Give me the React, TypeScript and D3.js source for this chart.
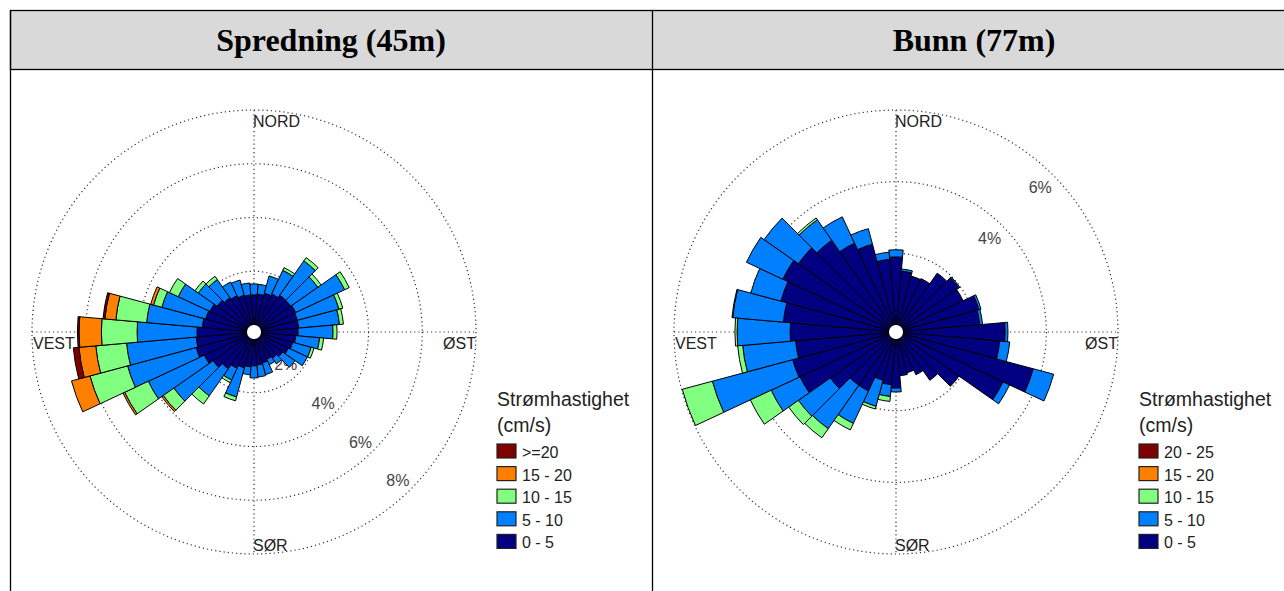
import React from "react";
import * as d3 from "d3";

// ---------- data ----------
const directions = [0, 10, 20, 30, 40, 50, 60, 70, 80, 90, 100, 110, 120, 130, 140, 150, 160, 170,
  180, 190, 200, 210, 220, 230, 240, 250, 260, 270, 280, 290, 300, 310, 320, 330, 340, 350];

// Spredning (45m) – percent of time per direction and speed class
const spredC0 = [1.12, 1.15, 1.23, 1.30, 1.41, 1.41, 1.45, 1.41, 1.41, 1.38, 1.30, 1.23, 1.15, 1.04, 0.93, 0.86, 0.93, 0.97,
  1.00, 1.04, 1.12, 1.23, 1.41, 1.60, 1.78, 1.97, 1.90, 1.86, 1.67, 1.60, 1.55, 1.41, 1.30, 1.23, 1.15, 1.12];
const spredC1 = [0.41, 0.37, 0.67, 0.97, 1.56, 1.23, 2.01, 1.60, 1.52, 1.30, 0.89, 0.71, 0.78, 0.56, 0.26, 0.22, 0.45, 0.45,
  0.45, 0.30, 1.12, 0.48, 1.23, 1.78, 2.30, 2.64, 2.60, 2.23, 2.08, 1.69, 1.30, 0.86, 0.82, 0.56, 0.59, 0.45];
const spredC2 = [0, 0, 0, 0.11, 0.15, 0.15, 0.19, 0.15, 0.15, 0.15, 0.15, 0.11, 0, 0, 0, 0, 0, 0,
  0, 0, 0.15, 0.11, 0.37, 0.48, 0.97, 1.45, 1.15, 1.33, 1.15, 0.32, 0.36, 0.15, 0.15, 0, 0, 0];
const spredC3 = [0, 0, 0, 0, 0, 0, 0, 0, 0, 0, 0, 0, 0, 0, 0, 0, 0, 0,
  0, 0, 0, 0, 0, 0.07, 0.07, 0.71, 0.63, 0.83, 0.41, 0.11, 0, 0, 0, 0, 0, 0];
const spredC4 = [0, 0, 0, 0, 0, 0, 0, 0, 0, 0, 0, 0, 0, 0, 0, 0, 0, 0,
  0, 0, 0, 0, 0, 0, 0, 0, 0.21, 0.06, 0.07, 0, 0, 0, 0, 0, 0, 0];

// Bunn (77m)
const bunnC0 = [1.90, 1.51, 1.42, 1.45, 1.81, 1.95, 1.87, 2.20, 2.15, 2.85, 2.71, 3.77, 3.10, 1.95, 1.45, 1.12, 0.98, 1.03,
  1.37, 1.28, 1.20, 1.62, 1.62, 2.04, 2.76, 2.79, 2.62, 2.76, 2.96, 3.13, 3.29, 3.13, 2.93, 2.54, 2.34, 1.84];
const bunnC1 = [0.20, 0.06, 0, 0, 0, 0.03, 0, 0.06, 0.08, 0.08, 0.28, 0.59, 0.20, 0, 0, 0, 0, 0,
  0.11, 0.33, 0.75, 1.00, 1.48, 1.09, 0.89, 2.32, 1.48, 1.48, 1.42, 0.87, 1.12, 1.17, 0.70, 0.81, 0.45, 0.20];
const bunnC2 = [0, 0, 0, 0, 0, 0, 0, 0, 0, 0, 0, 0, 0, 0, 0, 0, 0, 0,
  0, 0.14, 0.08, 0.20, 0.31, 0.33, 0.64, 0.87, 0.14, 0.06, 0.02, 0, 0, 0, 0.06, 0, 0, 0];
const bunnC3 = [0, 0, 0, 0, 0, 0, 0, 0, 0, 0, 0, 0, 0, 0, 0, 0, 0, 0,
  0, 0, 0, 0, 0, 0, 0, 0, 0, 0, 0, 0, 0, 0, 0, 0, 0, 0];
const bunnC4 = [0, 0, 0, 0, 0, 0, 0, 0, 0, 0, 0, 0, 0, 0, 0, 0, 0, 0,
  0, 0, 0, 0, 0, 0, 0, 0, 0, 0, 0, 0, 0, 0, 0, 0, 0, 0];

const classKeys = ["c0", "c1", "c2", "c3", "c4"];
const classColors = ["#000080", "#0080FF", "#80FF80", "#FF8000", "#800000"];
const spredLegend = ["0 - 5", "5 - 10", "10 - 15", "15 - 20", ">=20"];
const bunnLegend = ["0 - 5", "5 - 10", "10 - 15", "15 - 20", "20 - 25"];
const spredTicks = [2, 4, 6, 8];
const bunnTicks = [2, 4, 6];
const compassLabels = ["NORD", "ØST", "SØR", "VEST"];
const titles = ["Spredning (45m)", "Bunn (77m)"];
const legendTitle = ["Strømhastighet", "(cm/s)"];

// ---------- layout ----------
const W = 1284;
const H = 591;
const R = 222;
const HOLE = 7;
const SANS = "'Liberation Sans', Arial, sans-serif";
const DOT = { stroke: "#333", strokeWidth: 1.2, strokeDasharray: "1.2 3", fill: "none" };

function Rose({ cx, cy, series, ticks, labelAngle, labelInset, legendLabels, legendX }) {
  const rScale = d3.scaleLinear().domain([0, d3.max(ticks)]).range([HOLE, R]);
  const rows = directions.map((dir, i) => {
    const o: any = { dir };
    series.forEach((s, k) => (o[classKeys[k]] = s[i]));
    return o;
  });
  const stacked = d3.stack().keys(classKeys)(rows);
  const arc = d3.arc();
  const half = (5 * Math.PI) / 180;
  const la = (labelAngle * Math.PI) / 180;

  return (
    <g>
      {/* rings */}
      {ticks.map((t) => (
        <circle key={t} cx={cx} cy={cy} r={rScale(t)} {...DOT} />
      ))}
      <line x1={cx - R} x2={cx + R} y1={cy} y2={cy} {...DOT} />
      <line x1={cx} x2={cx} y1={cy - R} y2={cy + R} {...DOT} />
      {ticks.map((t) => {
        const d = rScale(t) - labelInset;
        return (
          <text key={"l" + t} x={cx + d * Math.sin(la)} y={cy - d * Math.cos(la)} textAnchor="middle"
            dominantBaseline="central" fontFamily={SANS} fontSize={16} fill="#444">{t}%</text>
        );
      })}
      {/* bars */}
      {stacked.map((layer, k) => (
        <g key={layer.key} fill={classColors[k]} stroke="#000" strokeWidth={1}>
          {layer.map((seg, i) => {
            if (seg[1] - seg[0] <= 0) return null;
            const a = (directions[i] * Math.PI) / 180;
            const p = arc({ innerRadius: rScale(seg[0]), outerRadius: rScale(seg[1]), startAngle: a - half, endAngle: a + half });
            return <path key={i} d={p} transform={`translate(${cx},${cy})`} />;
          })}
        </g>
      ))}
      <circle cx={cx} cy={cy} r={HOLE} fill="#fff" stroke="none" />
      {/* compass labels */}
      <text x={cx - 1} y={cy - R + 17} fontFamily={SANS} fontSize={16} fill="#222">{compassLabels[0]}</text>
      <text x={cx + R} y={cy + 17} textAnchor="end" fontFamily={SANS} fontSize={16} fill="#222">{compassLabels[1]}</text>
      <text x={cx - 1} y={cy + R - 3} fontFamily={SANS} fontSize={16} fill="#222">{compassLabels[2]}</text>
      <text x={cx - R + 1} y={cy + 17} fontFamily={SANS} fontSize={16} fill="#222">{compassLabels[3]}</text>
      {/* legend */}
      <text x={legendX} y={406} fontFamily={SANS} fontSize={19.5} fill="#222">{legendTitle[0]}</text>
      <text x={legendX} y={432} fontFamily={SANS} fontSize={19.5} fill="#222">{legendTitle[1]}</text>
      {legendLabels.slice().reverse().map((lab, j) => {
        const k = classKeys.length - 1 - j;
        const y = 444 + j * 22.6;
        return (
          <g key={lab}>
            <rect x={legendX} y={y} width={19} height={14} fill={classColors[k]} stroke="#222" strokeWidth={1.2} />
            <text x={legendX + 25} y={y + 14} fontFamily={SANS} fontSize={16} fill="#222">{lab}</text>
          </g>
        );
      })}
    </g>
  );
}

export default function App() {
  return (
    <svg width={W} height={H} style={{ position: "absolute", left: 0, top: 0, background: "#fff" }}>
      <rect x={0} y={0} width={W} height={H} fill="#fff" />
      {/* table */}
      <rect x={10.5} y={10.5} width={1400} height={59} fill="#d9d9d9" stroke="#000" strokeWidth={1.3} />
      <line x1={10.5} x2={10.5} y1={10} y2={H} stroke="#000" strokeWidth={1.3} />
      <line x1={652.5} x2={652.5} y1={10} y2={H} stroke="#000" strokeWidth={1.3} />
      <text x={331} y={51} textAnchor="middle" fontFamily="'Liberation Serif', 'Times New Roman', serif"
        fontWeight="bold" fontSize={32} fill="#000">{titles[0]}</text>
      <text x={974} y={51} textAnchor="middle" fontFamily="'Liberation Serif', 'Times New Roman', serif"
        fontWeight="bold" fontSize={32} fill="#000">{titles[1]}</text>
      <Rose cx={254} cy={332} series={[spredC0, spredC1, spredC2, spredC3, spredC4]} ticks={spredTicks}
        labelAngle={136} labelInset={15} legendLabels={spredLegend} legendX={497} />
      <Rose cx={896} cy={332} series={[bunnC0, bunnC1, bunnC2, bunnC3, bunnC4]} ticks={bunnTicks}
        labelAngle={45} labelInset={18} legendLabels={bunnLegend} legendX={1139} />
    </svg>
  );
}
